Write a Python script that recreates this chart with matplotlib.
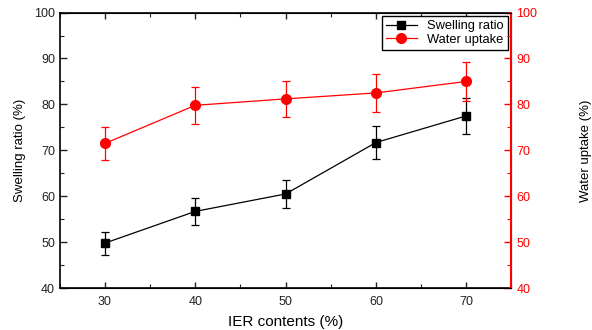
"""Swelling ratio and water uptake vs IER content."""

import matplotlib
matplotlib.use("Agg")
import matplotlib.pyplot as plt
from matplotlib.ticker import MultipleLocator

plt.rcParams["font.family"] = ["Liberation Sans", "DejaVu Sans"]
plt.rcParams["font.size"] = 9

ier_content = [30, 40, 50, 60, 70]
swelling = [49.8, 56.7, 60.5, 71.7, 77.5]
swelling_err = [2.5, 2.9, 3.1, 3.6, 3.9]
uptake = [71.5, 79.8, 81.2, 82.5, 85.0]
uptake_err = [3.6, 4.0, 4.0, 4.1, 4.2]

fig = plt.figure(figsize=(5.92, 3.30), dpi=100)
ax = fig.add_axes([0.101, 0.127, 0.763, 0.835])
ax2 = ax.twinx()

l1 = ax.errorbar(ier_content, swelling, yerr=swelling_err, color="black", marker="s",
                 markersize=6, linewidth=0.9, elinewidth=0.9, capsize=3, capthick=0.9,
                 label="Swelling ratio")
l2 = ax2.errorbar(ier_content, uptake, yerr=uptake_err, color="red", marker="o",
                  markersize=7, linewidth=0.9, elinewidth=0.9, capsize=3, capthick=0.9,
                  label="Water uptake")

ax.set_xlim(25, 75)
ax.set_ylim(40, 100)
ax2.set_ylim(40, 100)
ax.xaxis.set_major_locator(MultipleLocator(10))
ax.xaxis.set_minor_locator(MultipleLocator(5))
for a in (ax, ax2):
    a.yaxis.set_major_locator(MultipleLocator(10))
    a.yaxis.set_minor_locator(MultipleLocator(5))

ax.tick_params(axis="both", which="both", direction="in", colors="#222222")
ax.tick_params(axis="x", which="both", top=True, labeltop=False)
ax.tick_params(axis="x", which="major", length=4, width=1)
ax.tick_params(axis="x", which="minor", length=3, width=0.8)
ax.tick_params(axis="y", which="major", length=5, width=1)
ax.tick_params(axis="y", which="minor", length=3, width=0.8)
ax.tick_params(axis="x", pad=6)

ax2.tick_params(axis="y", which="both", direction="in", colors="red", labelcolor="red")
ax2.tick_params(axis="y", which="major", length=5, width=1)
ax2.tick_params(axis="y", which="minor", length=3, width=0.8)
ax2.spines["right"].set_color("red")
ax2.spines["right"].set_linewidth(1.5)
for s in ("left", "bottom", "top"):
    ax.spines[s].set_linewidth(1.2)
ax2.spines["left"].set_visible(False)

ax.set_xlabel("IER contents (%)", fontsize=11, labelpad=5)
ax.set_ylabel("Swelling ratio (%)", fontsize=9.5, labelpad=6)
ax2.set_ylabel("Water uptake (%)", fontsize=9.5, labelpad=31)

leg = ax.legend([l1[0], l2[0]], ["Swelling ratio", "Water uptake"], loc="upper right",
                fancybox=False, edgecolor="black", framealpha=1, borderaxespad=0.3,
                handlelength=2.4, borderpad=0.3, labelspacing=0.1, fontsize=9.3)
leg.get_frame().set_linewidth(1)

fig.savefig("out.png", dpi=100)
